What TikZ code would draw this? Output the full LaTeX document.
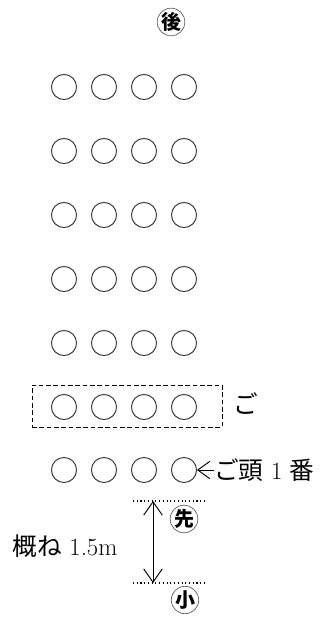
\documentclass[tikz,border=0pt]{standalone}
\usepackage{fontspec}
\newfontfamily\jp{Noto Sans CJK JP}
\usetikzlibrary{arrows.meta,positioning}

\begin{document}
\begin{tikzpicture}[
  x=0.75pt, y=-0.75pt,
  person/.style={draw=black!80, line width=0.7pt, circle, minimum size=18.8pt, inner sep=0pt},
  tag/.style={draw=black!70, line width=0.45pt, circle, minimum size=19.5pt, inner sep=0pt, font=\fontsize{15}{15}\selectfont\jp\bfseries},
  lbl/.style={inner sep=0pt, font=\fontsize{18.5}{22}\selectfont},
  rule/.style={dotted, line width=0.8pt},
  >={Straight Barb[length=10pt,width=14pt]}
]
\useasboundingbox (0,0) rectangle (331,617);

\node[tag] (back) at (171,22) {後};

\foreach \r/\y in {1/87,2/151,3/215,4/279,5/343,6/407,7/470}
  \foreach \c/\x in {1/64,2/104,3/144,4/184}
    \node[person] (p-\r-\c) at (\x,\y) {};

\node[draw, dashed, dash pattern=on 3.5pt off 2pt, line width=0.6pt, minimum width=142.5pt, minimum height=31.5pt, inner sep=0pt] (group) at (127,406) {};
\node[lbl, anchor=west, font=\fontsize{18.5}{22}\selectfont\jp] (go) at (233,404) {ご};

\node[lbl, anchor=west] (head) at (214,470) {{\jp ご頭} 1 {\jp 番}};
\draw[->, line width=0.7pt, >={Straight Barb[length=9pt,width=13pt]}] (head.west) -- (p-7-4.east);

\coordinate (topL) at (133,501);
\coordinate (topR) at (207,501);
\coordinate (botL) at (133,583);
\coordinate (botR) at (207,583);
\coordinate (topM) at (153,501);
\coordinate (botM) at (153,583);
\draw[rule] (topL) -- (topR);
\draw[rule] (botL) -- (botR);
\draw[<->, line width=0.7pt] (topM) -- (botM);

\node[tag] (front) at (184,519) {先};
\node[tag] (small) at (185,600) {小};
\node[lbl] (dist) at (65,546) {{\jp 概ね} 1.5m};
\end{tikzpicture}
\end{document}
